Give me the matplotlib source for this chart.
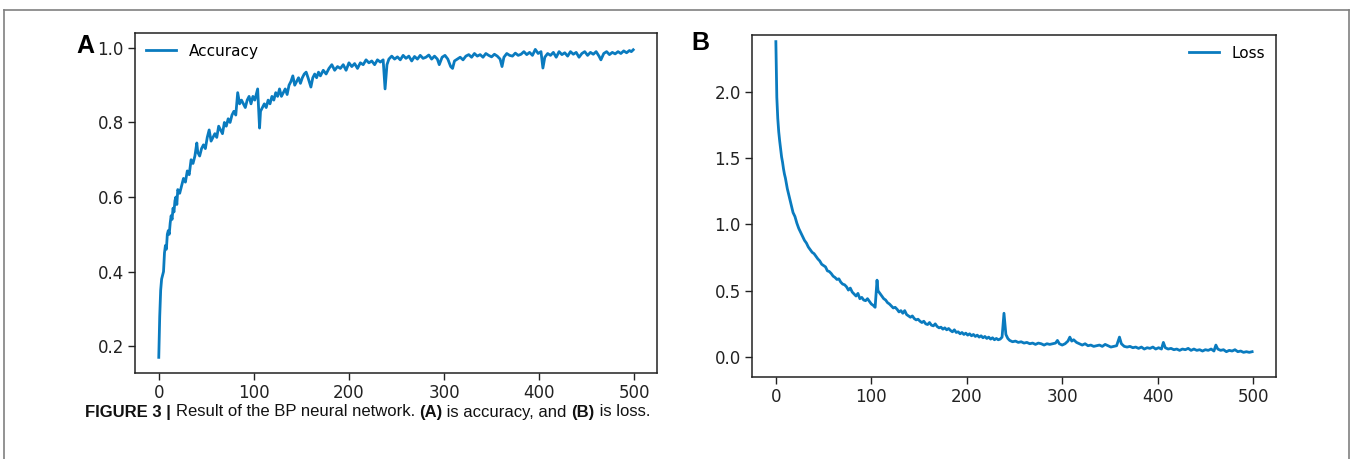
import matplotlib
matplotlib.use("Agg")
import matplotlib.pyplot as plt
from matplotlib.lines import Line2D

# ---------------- data ----------------
acc_epochs = [0, 1, 2, 3, 4, 5, 6, 7, 8, 9, 10, 11, 12, 13, 14, 15, 16, 17, 18, 19,
              20, 22, 24, 26, 28, 30, 32, 34, 36, 38, 40, 41, 43, 45, 47, 49, 51, 53, 55, 57,
              59, 61, 63, 65, 67, 69, 71, 73, 75, 77, 79, 81, 83, 85, 87, 89, 91, 93, 95, 97,
              99, 101, 103, 104, 106, 107, 109, 111, 113, 115, 117, 119, 121, 123, 125, 127, 129, 131, 133, 135,
              137, 139, 141, 143, 145, 147, 149, 151, 153, 155, 157, 160, 162, 164, 166, 168, 170, 173, 176, 179,
              182, 185, 188, 191, 194, 197, 200, 203, 206, 209, 212, 215, 218, 221, 224, 227, 230, 233, 236, 238,
              240, 242, 245, 248, 251, 254, 257, 260, 263, 266, 269, 272, 275, 278, 281, 284, 287, 290, 293, 295,
              298, 301, 304, 307, 309, 311, 314, 317, 320, 323, 326, 329, 332, 335, 338, 341, 344, 347, 350, 353,
              356, 359, 361, 363, 366, 369, 372, 375, 378, 381, 384, 387, 390, 393, 396, 399, 402, 404, 406, 409,
              412, 415, 418, 421, 424, 427, 430, 433, 436, 439, 442, 445, 448, 451, 454, 457, 460, 463, 465, 468,
              471, 474, 477, 480, 483, 486, 489, 492, 495, 497, 499]
acc_values = [0.17, 0.28, 0.35, 0.38, 0.39, 0.40, 0.45, 0.47, 0.46, 0.50, 0.51, 0.50, 0.53, 0.55, 0.54, 0.57, 0.56, 0.59, 0.60, 0.58,
              0.62, 0.61, 0.63, 0.65, 0.64, 0.67, 0.66, 0.70, 0.69, 0.71, 0.745, 0.72, 0.71, 0.73, 0.74, 0.73, 0.76, 0.78, 0.75, 0.76,
              0.77, 0.76, 0.79, 0.78, 0.77, 0.80, 0.79, 0.81, 0.80, 0.82, 0.83, 0.82, 0.88, 0.85, 0.86, 0.85, 0.84, 0.86, 0.87, 0.85,
              0.87, 0.86, 0.88, 0.89, 0.785, 0.83, 0.84, 0.85, 0.84, 0.86, 0.85, 0.87, 0.86, 0.88, 0.87, 0.89, 0.87, 0.88, 0.89, 0.875,
              0.90, 0.91, 0.925, 0.90, 0.91, 0.92, 0.905, 0.92, 0.93, 0.935, 0.92, 0.895, 0.92, 0.93, 0.92, 0.935, 0.925, 0.94, 0.93, 0.945,
              0.955, 0.94, 0.95, 0.945, 0.955, 0.94, 0.96, 0.95, 0.958, 0.945, 0.96, 0.955, 0.968, 0.96, 0.965, 0.955, 0.968, 0.962, 0.968, 0.89,
              0.955, 0.97, 0.978, 0.97, 0.976, 0.968, 0.98, 0.972, 0.978, 0.965, 0.977, 0.97, 0.98, 0.972, 0.975, 0.981, 0.97, 0.978, 0.97, 0.955,
              0.975, 0.98, 0.97, 0.95, 0.945, 0.965, 0.97, 0.975, 0.968, 0.978, 0.982, 0.975, 0.985, 0.978, 0.982, 0.975, 0.985, 0.98, 0.976, 0.983,
              0.978, 0.97, 0.95, 0.975, 0.985, 0.98, 0.978, 0.986, 0.98, 0.983, 0.99, 0.982, 0.988, 0.98, 0.996, 0.985, 0.99, 0.946, 0.975, 0.985,
              0.98, 0.988, 0.975, 0.99, 0.982, 0.987, 0.978, 0.99, 0.983, 0.988, 0.975, 0.985, 0.99, 0.98, 0.988, 0.983, 0.99, 0.978, 0.968, 0.985,
              0.99, 0.982, 0.988, 0.984, 0.99, 0.985, 0.992, 0.987, 0.993, 0.99, 0.995]

loss_epochs = [0, 1, 2, 3, 4, 5, 6, 7, 8, 9, 10, 12, 14, 16, 18, 20, 22, 24, 26, 28,
               30, 32, 34, 36, 38, 40, 42, 44, 46, 48, 50, 52, 54, 56, 58, 60, 62, 64, 66, 68,
               70, 72, 74, 76, 78, 80, 82, 84, 86, 88, 90, 92, 94, 96, 98, 100, 102, 104, 106, 107,
               109, 111, 113, 115, 117, 119, 121, 123, 125, 127, 129, 131, 133, 135, 137, 139, 141, 143, 145, 147,
               149, 151, 153, 155, 157, 159, 161, 163, 165, 167, 169, 171, 173, 175, 177, 179, 181, 183, 185, 187,
               189, 191, 193, 195, 197, 199, 201, 203, 205, 207, 209, 211, 213, 215, 217, 219, 221, 223, 225, 227,
               229, 231, 233, 235, 237, 239, 240, 241, 243, 245, 248, 251, 254, 257, 260, 263, 266, 269, 272, 275,
               278, 281, 284, 287, 290, 293, 295, 297, 300, 303, 306, 308, 310, 312, 315, 318, 321, 324, 327, 330,
               333, 336, 339, 342, 345, 348, 351, 354, 357, 360, 362, 365, 368, 371, 374, 377, 380, 383, 386, 389,
               392, 395, 398, 401, 404, 406, 408, 411, 414, 417, 420, 423, 426, 429, 432, 435, 438, 441, 444, 447,
               450, 453, 456, 459, 461, 463, 466, 469, 472, 475, 478, 481, 484, 487, 490, 493, 496, 499]
loss_values = [2.38, 1.96, 1.80, 1.70, 1.63, 1.57, 1.51, 1.47, 1.42, 1.38, 1.35, 1.27, 1.21, 1.15, 1.09, 1.06, 1.01, 0.97, 0.94, 0.91,
               0.88, 0.86, 0.83, 0.81, 0.79, 0.78, 0.76, 0.74, 0.725, 0.70, 0.69, 0.68, 0.65, 0.645, 0.63, 0.61, 0.60, 0.585, 0.59, 0.565,
               0.55, 0.545, 0.53, 0.505, 0.52, 0.49, 0.475, 0.46, 0.48, 0.44, 0.45, 0.43, 0.425, 0.44, 0.42, 0.40, 0.39, 0.375, 0.58, 0.50,
               0.48, 0.46, 0.44, 0.43, 0.41, 0.40, 0.385, 0.37, 0.375, 0.36, 0.34, 0.35, 0.33, 0.35, 0.32, 0.31, 0.30, 0.31, 0.29, 0.28,
               0.285, 0.27, 0.26, 0.27, 0.25, 0.245, 0.26, 0.24, 0.235, 0.25, 0.23, 0.22, 0.225, 0.21, 0.22, 0.205, 0.215, 0.20, 0.19, 0.205,
               0.185, 0.19, 0.175, 0.185, 0.17, 0.18, 0.165, 0.175, 0.16, 0.17, 0.155, 0.165, 0.15, 0.16, 0.145, 0.155, 0.14, 0.15, 0.135, 0.145,
               0.13, 0.14, 0.13, 0.135, 0.15, 0.33, 0.25, 0.17, 0.14, 0.125, 0.115, 0.12, 0.11, 0.115, 0.105, 0.11, 0.10, 0.105, 0.095, 0.105,
               0.10, 0.09, 0.10, 0.095, 0.10, 0.105, 0.125, 0.10, 0.09, 0.10, 0.12, 0.15, 0.12, 0.13, 0.11, 0.10, 0.09, 0.10, 0.085, 0.09,
               0.08, 0.085, 0.09, 0.08, 0.095, 0.085, 0.075, 0.08, 0.085, 0.15, 0.10, 0.08, 0.075, 0.08, 0.07, 0.075, 0.065, 0.075, 0.06, 0.07,
               0.065, 0.075, 0.06, 0.07, 0.06, 0.11, 0.07, 0.06, 0.065, 0.055, 0.06, 0.05, 0.06, 0.055, 0.065, 0.05, 0.06, 0.05, 0.055, 0.045,
               0.055, 0.05, 0.06, 0.045, 0.09, 0.06, 0.05, 0.055, 0.04, 0.05, 0.045, 0.055, 0.04, 0.045, 0.035, 0.04, 0.035, 0.04]

x_ticks = [0, 100, 200, 300, 400, 500]
acc_yticks = [0.2, 0.4, 0.6, 0.8, 1.0]
loss_yticks = [0.0, 0.5, 1.0, 1.5, 2.0]

# ---------------- figure ----------------
W, H = 1355, 459
fig = plt.figure(figsize=(W / 100, H / 100), dpi=100)
fig.patch.set_facecolor("white")

line_color = "#0a7bbf"
spine_color = "#222222"


def px_axes(left, top, right, bottom):
    return fig.add_axes([left / W, 1 - bottom / H, (right - left) / W, (bottom - top) / H])


def style(ax):
    for s in ax.spines.values():
        s.set_color(spine_color)
        s.set_linewidth(1.1)
    ax.tick_params(colors="#222222", labelsize=12, length=5, width=1, pad=3)


axA = px_axes(135, 33, 657, 373)
axA.plot(acc_epochs, acc_values, color=line_color, lw=2.0, label="Accuracy")
axA.set_xticks(x_ticks)
axA.set_yticks(acc_yticks)
axA.set_xlim(-25, 524)
axA.set_ylim(0.128, 1.04)
style(axA)
axA.legend(loc="upper left", frameon=False, fontsize=11, handlelength=2.0,
           borderaxespad=0.3)

axB = px_axes(752, 35, 1276, 377)
axB.plot(loss_epochs, loss_values, color=line_color, lw=2.0, label="Loss")
axB.set_xticks(x_ticks)
axB.set_yticks(loss_yticks)
axB.set_xlim(-25, 524)
axB.set_ylim(-0.151, 2.43)
style(axB)
axB.legend(loc="upper right", frameon=False, fontsize=11, handlelength=2.0,
           borderaxespad=0.3)

# panel letters
fig.text(85 / W, 1 - 46 / H, "A", fontsize=18, fontweight="bold",
         family=["Liberation Sans", "DejaVu Sans"], va="center", ha="center")
fig.text(700 / W, 1 - 43 / H, "B", fontsize=18, fontweight="bold",
         family=["Liberation Sans", "DejaVu Sans"], va="center", ha="center")

# figure frame (top, left, right)
frame_c = "#808080"
fig.add_artist(Line2D([4 / W, 1349 / W], [1 - 10 / H, 1 - 10 / H], transform=fig.transFigure, color=frame_c, lw=1.2))
fig.add_artist(Line2D([4 / W, 4 / W], [0, 1 - 10 / H], transform=fig.transFigure, color=frame_c, lw=1.2))
fig.add_artist(Line2D([1349 / W, 1349 / W], [0, 1 - 10 / H], transform=fig.transFigure, color=frame_c, lw=1.2))

# caption
cap_fam = ["Liberation Sans Narrow", "Liberation Sans", "DejaVu Sans"]
cap_y = 1 - 412 / H
parts = [("FIGURE 3 | ", "bold"), ("Result of the BP neural network. ", "normal"),
         ("(A)", "bold"), (" is accuracy, and ", "normal"), ("(B)", "bold"), (" is loss.", "normal")]
fig.canvas.draw()
renderer = fig.canvas.get_renderer()
x = 85 / W
for txt, wt in parts:
    t = fig.text(x, cap_y, txt, fontsize=12, fontweight=wt, family=cap_fam,
                 va="center", ha="left", color="#111111")
    bb = t.get_window_extent(renderer=renderer)
    x += bb.width / W

fig.savefig("out.png", dpi=100, facecolor="white")
